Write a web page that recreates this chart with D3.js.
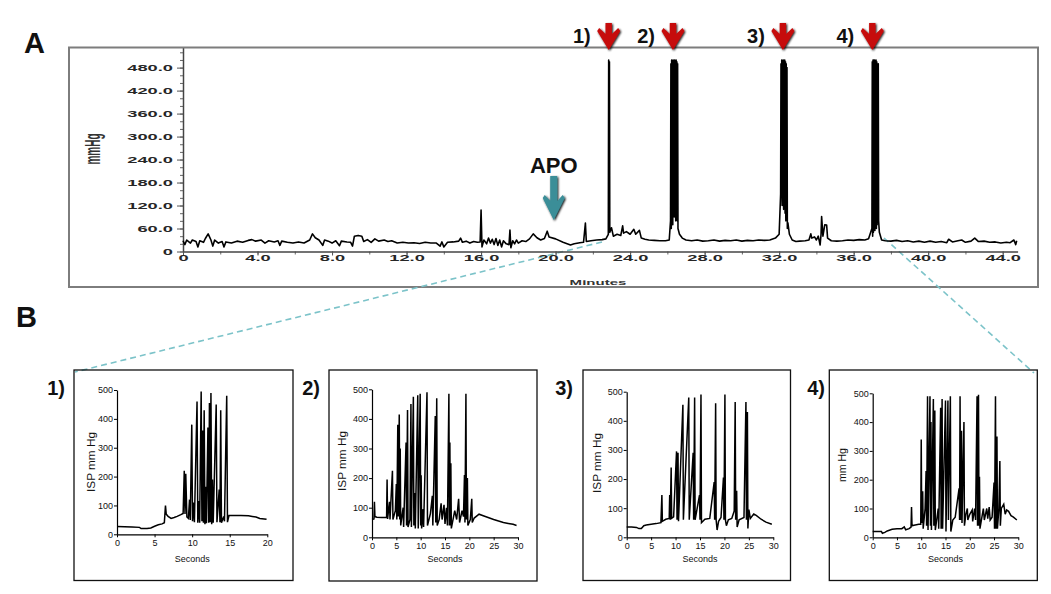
<!DOCTYPE html>
<html><head><meta charset="utf-8">
<script src="https://cdn.jsdelivr.net/npm/d3@7"></script>
<style>body{margin:0;background:#fff} svg{display:block}</style>
</head><body>
<svg id="c" width="1051" height="594"></svg>
<script>
// ---------------- DATA ----------------
const traceA = [[0,28],[0.1,18],[0.2,30],[0.4,22],[0.5,30],[0.7,26],[0.8,12],[0.9,28],[1.1,24],[1.2,34],[1.35,46],[1.5,30],[1.6,14],[1.7,30],[1.9,22],[2.1,26],[2.2,12],[2.3,25],[2.6,22],[2.9,27],[3.2,24],[3.5,29],[3.7,31],[3.9,27],[4.2,30],[4.4,22],[4.6,28],[4.9,25],[5.1,28],[5.2,16],[5.3,27],[5.6,24],[5.9,22],[6.2,25],[6.5,22],[6.8,30],[6.95,46],[7.1,36],[7.3,30],[7.5,16],[7.6,30],[7.8,27],[8.0,22],[8.2,28],[8.4,15],[8.5,27],[8.8,25],[9.0,24],[9.1,14],[9.2,40],[9.4,42],[9.6,40],[9.7,26],[9.9,31],[10.1,24],[10.3,33],[10.5,27],[10.8,30],[11.0,26],[11.2,28],[11.5,22],[11.8,24],[12.1,22],[12.4,23],[12.7,21],[13.0,24],[13.3,22],[13.6,22],[13.8,14],[13.9,25],[14.0,12],[14.2,24],[14.5,25],[14.8,27],[14.9,35],[15.0,24],[15.2,27],[15.4,22],[15.6,26],[15.8,24],[15.95,25],[16.0,108],[16.05,12],[16.15,30],[16.3,20],[16.4,35],[16.5,22],[16.6,32],[16.7,18],[16.8,34],[16.9,16],[17.0,30],[17.1,12],[17.2,28],[17.35,20],[17.5,18],[17.55,56],[17.6,10],[17.7,28],[17.8,20],[17.9,30],[18.0,22],[18.2,28],[18.4,26],[18.6,33],[18.8,46],[19.0,36],[19.2,30],[19.4,34],[19.55,53],[19.65,38],[20.0,33],[20.4,24],[20.8,17],[21.0,20],[21.3,23],[21.5,24],[21.6,74],[21.65,26],[21.9,28],[22.2,30],[22.5,31],[22.7,33],[22.83,45],[22.85,500],[22.87,60],[22.89,495],[22.91,50],[23.0,62],[23.1,40],[23.3,45],[23.5,42],[23.6,67],[23.65,48],[23.8,52],[24.0,45],[24.2,58],[24.3,45],[24.5,55],[24.6,35],[24.8,32],[25.0,30],[25.3,29],[25.6,28],[25.9,28],[26.1,30],[26.17,80],[26.19,490],[26.21,60],[26.23,500],[26.25,100],[26.27,495],[26.29,70],[26.31,500],[26.33,150],[26.35,495],[26.37,90],[26.39,500],[26.41,200],[26.43,495],[26.45,80],[26.47,500],[26.49,120],[26.51,495],[26.53,80],[26.55,490],[26.57,60],[26.65,45],[26.8,35],[27.0,30],[27.3,28],[27.6,30],[27.9,27],[28.2,28],[28.5,30],[28.8,27],[29.1,29],[29.4,28],[29.7,30],[30.0,27],[30.3,29],[30.6,28],[30.9,30],[31.2,29],[31.5,30],[31.8,35],[32.0,45],[32.08,150],[32.1,490],[32.12,160],[32.14,500],[32.16,120],[32.18,495],[32.2,140],[32.22,500],[32.24,110],[32.26,490],[32.28,130],[32.3,500],[32.32,100],[32.34,495],[32.36,80],[32.38,490],[32.4,90],[32.42,480],[32.44,60],[32.47,75],[32.55,45],[32.7,30],[32.9,26],[33.1,27],[33.4,28],[33.6,30],[33.7,46],[33.75,35],[33.9,38],[34.0,30],[34.1,40],[34.2,17],[34.25,45],[34.28,91],[34.35,40],[34.45,70],[34.55,69],[34.6,35],[34.8,28],[35.1,27],[35.4,28],[35.7,30],[36.0,29],[36.3,31],[36.6,30],[36.8,33],[36.98,60],[37.0,495],[37.02,40],[37.04,500],[37.06,50],[37.08,500],[37.1,60],[37.12,500],[37.14,55],[37.16,495],[37.18,70],[37.2,500],[37.22,60],[37.24,495],[37.26,70],[37.28,490],[37.3,80],[37.32,490],[37.34,80],[37.38,50],[37.5,30],[37.7,28],[38.0,27],[38.3,29],[38.6,26],[38.9,28],[39.2,25],[39.5,27],[39.8,24],[40.1,27],[40.4,24],[40.7,26],[41.0,23],[41.1,32],[41.3,25],[41.6,28],[41.8,30],[42.0,24],[42.3,27],[42.5,35],[42.7,26],[43.0,27],[43.3,24],[43.6,25],[43.9,22],[44.2,24],[44.4,23],[44.6,30],[44.7,18],[44.75,28]];
const yTicksA = [0,60,120,180,240,300,360,420,480];
const xTicksA = [0,4,8,12,16,20,24,28,32,36,40,44];
const arrowMinutes = [22.85, 26.3, 32.2, 37.0];
const arrowLabels = ["1)","2)","3)","4)"];
const apoMinute = 19.9;

const trace1 = [[0,27],[1,26],[2,25],[3,24],[3.2,20],[4,20],[4.5,22],[5,28],[5.5,33],[6,36],[6.3,40],[6.45,100],[6.55,70],[6.8,62],[7.2,55],[7.6,58],[8.0,62],[8.5,68],[8.8,72],[8.95,220],[9.05,70],[9.15,210],[9.3,60],[9.5,55],[9.65,120],[9.75,50],[9.95,380],[10.05,45],[10.15,110],[10.3,42],[10.65,460],[10.75,40],[10.9,115],[11.0,40],[11.2,495],[11.3,45],[11.4,360],[11.5,40],[11.6,430],[11.7,35],[11.8,165],[11.9,38],[12.1,370],[12.2,40],[12.3,455],[12.4,42],[12.5,490],[12.6,35],[12.7,190],[12.8,40],[13.2,450],[13.3,42],[13.6,155],[13.7,42],[13.8,430],[13.9,40],[14.2,62],[14.3,45],[14.6,480],[14.7,42],[14.9,65],[15.5,65],[16.5,65],[17.5,64],[18.0,62],[18.5,60],[19,55],[19.9,52]];
const trace2 = [[0,60],[0.4,62],[0.5,120],[0.6,70],[1,68],[2,67],[3,68],[3.1,195],[3.2,62],[3.6,120],[3.7,60],[4.2,225],[4.3,60],[4.8,90],[5.0,180],[5.1,60],[5.3,380],[5.4,70],[5.6,415],[5.7,60],[5.8,300],[5.9,40],[6.4,100],[6.5,35],[7.0,320],[7.1,40],[7.3,430],[7.4,35],[7.8,60],[8.0,450],[8.1,35],[8.5,475],[8.6,40],[8.8,150],[8.9,30],[9.4,480],[9.5,30],[9.9,485],[10.0,40],[10.1,210],[10.2,30],[10.5,95],[10.6,35],[11.3,490],[11.4,40],[12.0,80],[12.4,140],[12.5,40],[13.0,410],[13.1,50],[13.3,470],[13.4,40],[13.8,60],[14.2,115],[14.4,60],[14.8,110],[15.0,45],[15.3,100],[15.5,40],[15.8,485],[15.9,40],[16.0,320],[16.1,40],[16.2,250],[16.3,30],[17.0,90],[17.4,60],[17.8,130],[18.0,50],[18.5,90],[18.8,70],[19.0,210],[19.1,50],[19.3,485],[19.4,60],[19.6,200],[19.7,40],[20.2,60],[20.5,130],[20.6,50],[21.0,65],[22.0,78],[23,72],[24,66],[25,60],[26,55],[27,50],[28,47],[29,44],[29.7,40]];
const trace3 = [[0,35],[1,35],[2,34],[2.5,30],[3,30],[3.5,40],[4,42],[5,45],[6,47],[7,50],[7.2,145],[7.3,55],[8,62],[8.7,65],[8.8,145],[8.9,60],[9.1,240],[9.2,65],[9.6,70],[10.2,295],[10.3,60],[10.5,290],[10.6,55],[11.5,455],[11.6,60],[12.7,480],[12.8,60],[13.6,290],[13.7,60],[13.9,480],[14.0,60],[14.9,145],[15.0,60],[15.2,490],[15.3,50],[16,62],[17,65],[17.9,190],[18.0,60],[18.2,460],[18.3,60],[18.5,25],[18.8,55],[19.3,68],[19.8,205],[19.9,60],[20.1,490],[20.2,60],[20.4,40],[20.8,60],[21.5,65],[22.0,90],[22.2,465],[22.3,60],[22.5,160],[22.6,35],[23.0,60],[24.0,68],[24.4,465],[24.5,60],[24.7,430],[24.8,30],[25.0,95],[25.3,65],[26.0,80],[26.5,75],[27.5,62],[28.5,52],[29.7,45]];
const trace4 = [[0,20],[1,20],[1.8,20],[2,14],[2.5,17],[3,22],[4,28],[5,30],[6,30],[6.5,36],[6.8,26],[7.5,30],[7.9,35],[8.0,105],[8.1,40],[8.5,42],[9.5,45],[9.9,45],[10.0,340],[10.1,50],[10.3,160],[10.4,30],[10.8,100],[11.0,230],[11.1,40],[11.3,490],[11.4,25],[11.8,490],[11.9,40],[12.0,400],[12.1,25],[12.5,480],[12.6,40],[12.8,440],[12.9,25],[13.5,100],[13.6,30],[14.0,450],[14.1,30],[14.3,480],[14.4,30],[15.0,475],[15.1,20],[15.5,475],[15.6,60],[16.0,490],[16.1,20],[16.5,60],[17.0,70],[17.8,170],[17.9,60],[18.0,490],[18.1,60],[18.3,370],[18.4,50],[18.8,400],[18.9,40],[19.2,80],[19.5,100],[19.6,60],[20.0,80],[20.5,95],[20.6,55],[21.0,100],[21.2,60],[21.5,490],[21.6,40],[21.8,495],[21.9,40],[22.0,210],[22.1,30],[22.5,70],[22.8,100],[23.0,60],[23.5,100],[23.7,65],[24.0,105],[24.2,60],[24.6,70],[25.0,190],[25.1,30],[25.3,490],[25.4,30],[25.6,350],[25.7,30],[26.0,100],[26.2,265],[26.3,40],[26.5,100],[27.0,115],[27.3,80],[27.6,95],[28.0,90],[28.5,75],[29,70],[29.7,60]];
const yTicksB = [0,100,200,300,400,500];
const xTicksB20 = [0,5,10,15,20];
const xTicksB30 = [0,5,10,15,20,25,30];
const subLabels = ["1)","2)","3)","4)"];
const subYTitles = ["ISP mm Hg","ISP mm Hg","ISP mm Hg","mm Hg"];

// ---------------- DRAW ----------------
const svg = d3.select("#c");
const FONT = "'Liberation Sans', Arial, sans-serif";
const SX = 2.15; // horizontal stretch of the embedded panel-A screenshot text

svg.append("rect").attr("x",69).attr("y",47.5).attr("width",969).attr("height",239.5)
  .attr("fill","none").attr("stroke","#7d7d7d").attr("stroke-width",2);

const xA = d3.scaleLinear().domain([0,44.8]).range([183,1017.6]);
const yA = d3.scaleLinear().domain([0,532]).range([251.5,47.7]);

const dash = svg.append("g").attr("stroke","#7cc3c9").attr("stroke-width",1.6)
  .attr("stroke-dasharray","6,4").attr("fill","none");
dash.append("line").attr("x1",602).attr("y1",242).attr("x2",75).attr("y2",372);
dash.append("line").attr("x1",884).attr("y1",238).attr("x2",1034).attr("y2",373);

svg.append("g").attr("transform","translate(183,0)")
  .call(d3.axisLeft(yA).tickValues(d3.range(0,521,20)).tickSize(3).tickFormat(""))
  .call(g=>g.select(".domain").remove())
  .selectAll("line").attr("stroke","#666");
svg.append("g").attr("transform","translate(0,251.5)")
  .call(d3.axisBottom(xA).tickValues(d3.range(0,44.8,2)).tickSize(3).tickFormat(""))
  .call(g=>g.select(".domain").remove())
  .selectAll("line").attr("stroke","#666");

const gy = svg.append("g").attr("transform","translate(183,0)")
  .call(d3.axisLeft(yA).tickValues(yTicksA).tickSize(6).tickSizeOuter(0)
    .tickFormat(d=> d===0 ? "0" : d.toFixed(1)));
gy.select(".domain").attr("stroke","#444").attr("stroke-width",1.5);
gy.selectAll(".tick line").attr("stroke","#555");
gy.selectAll("text").attr("font-family",FONT).attr("font-weight","bold").attr("font-size",8.5)
  .attr("fill","#262626").attr("x",-10/SX).attr("transform",`scale(${SX},1)`);

const gx = svg.append("g").attr("transform","translate(0,251.5)")
  .call(d3.axisBottom(xA).tickValues(xTicksA).tickSize(4).tickSizeOuter(0)
    .tickFormat(d=> d===0 ? "0" : d.toFixed(1)));
gx.select(".domain").attr("stroke","#444").attr("stroke-width",1.5);
gx.selectAll(".tick line").attr("stroke","#555");
gx.selectAll("text").attr("font-family",FONT).attr("font-weight","bold").attr("font-size",8.5)
  .attr("fill","#262626").attr("y",3).attr("transform",`scale(${SX},1)`);

svg.append("text").attr("transform",`translate(100,149) scale(${SX},1) rotate(-90)`)
  .attr("text-anchor","middle").attr("font-family",FONT).attr("font-weight","bold")
  .attr("font-size",10).attr("fill","#333").text("mmHg");
svg.append("text").attr("transform",`translate(598,285) scale(${SX},1)`)
  .attr("text-anchor","middle").attr("font-family",FONT).attr("font-weight","bold")
  .attr("font-size",7).attr("fill","#333").text("Minutes");

svg.append("path").datum(traceA)
  .attr("d", d3.line().x(d=>xA(d[0])).y(d=>yA(d[1])))
  .attr("fill","none").attr("stroke","#000").attr("stroke-width",1.6).attr("stroke-linejoin","round");

const defs = svg.append("defs");
const f = defs.append("filter").attr("id","sh").attr("x","-50%").attr("y","-50%").attr("width","200%").attr("height","200%");
f.append("feGaussianBlur").attr("in","SourceAlpha").attr("stdDeviation",1.2);
f.append("feOffset").attr("dx",0.5).attr("dy",1.2).attr("result","b");
const fm = f.append("feMerge"); fm.append("feMergeNode").attr("in","b"); fm.append("feMergeNode").attr("in","SourceGraphic");

function downArrow(cx, top, tip, half, stem, wingY){
  return `M${cx-stem},${top} L${cx+stem},${top} L${cx+stem},${wingY+6} L${cx+half-2},${wingY} L${cx+half},${wingY+3} L${cx},${tip} L${cx-half},${wingY+3} L${cx-half+2},${wingY} L${cx-stem},${wingY+6} Z`;
}
arrowMinutes.forEach((m,i)=>{
  const cx = xA(m);
  svg.append("path").attr("d",downArrow(cx,23,50,11.5,3.2,28))
    .attr("fill","#c40000").attr("filter","url(#sh)").attr("opacity",0.95);
  svg.append("text").attr("x",cx-18).attr("y",43).attr("text-anchor","end")
    .attr("font-family",FONT).attr("font-weight","bold").attr("font-size",20)
    .attr("fill","#111").text(arrowLabels[i]);
});

const ax = xA(apoMinute);
svg.append("path").attr("d",downArrow(ax,176,220,11,3.5,195))
  .attr("fill","#3a8e98").attr("filter","url(#sh)");
svg.append("text").attr("x",ax).attr("y",173).attr("text-anchor","middle")
  .attr("font-family",FONT).attr("font-weight","bold").attr("font-size",22)
  .attr("fill","#111").text("APO");

svg.append("text").attr("x",24).attr("y",53).attr("font-family",FONT).attr("font-weight","bold")
  .attr("font-size",29).attr("fill","#111").text("A");
svg.append("text").attr("x",16).attr("y",327).attr("font-family",FONT).attr("font-weight","bold")
  .attr("font-size",29).attr("fill","#111").text("B");

// ---------------- Panel B ----------------
const subs = [
  {data:trace1, xmax:20, xt:xTicksB20, box:[74,370,293,580.5], ax:117, y0:534.3, y500:390, x1:267.3, lab:[65,395], yt:[92,462], tl:60},
  {data:trace2, xmax:30, xt:xTicksB30, box:[329,370,537,581], ax:372, y0:537.3, y500:389.3, x1:518, lab:[320,395], yt:[343,461], tl:60},
  {data:trace3, xmax:30, xt:xTicksB30, box:[583,370,790.5,580.5], ax:626.7, y0:537.3, y500:391.7, x1:773.3, lab:[573,395], yt:[598,463], tl:60},
  {data:trace4, xmax:30, xt:xTicksB30, box:[829.3,370,1037.3,580.5], ax:872.7, y0:537.3, y500:393.3, x1:1018.3, lab:[825,395], yt:[843,465], tl:34}
];
subs.forEach((s,i)=>{
  svg.append("rect").attr("x",s.box[0]).attr("y",s.box[1]).attr("width",s.box[2]-s.box[0])
    .attr("height",s.box[3]-s.box[1]).attr("fill","none").attr("stroke","#111").attr("stroke-width",1.3);
  svg.append("text").attr("x",s.lab[0]).attr("y",s.lab[1]).attr("text-anchor","end")
    .attr("font-family",FONT).attr("font-weight","bold").attr("font-size",20).attr("fill","#111").text(subLabels[i]);
  const x = d3.scaleLinear().domain([0,s.xmax]).range([s.ax,s.x1]);
  const y = d3.scaleLinear().domain([0,500]).range([s.y0,s.y500]);
  const g = svg.append("g");
  const gyb = g.append("g").attr("transform",`translate(${s.ax},0)`)
    .call(d3.axisLeft(y).tickValues(yTicksB).tickSize(3).tickPadding(1).tickSizeOuter(0));
  const gxb = g.append("g").attr("transform",`translate(0,${s.y0})`)
    .call(d3.axisBottom(x).tickValues(s.xt).tickSize(3).tickPadding(2).tickSizeOuter(0));
  [gyb,gxb].forEach(a=>{
    a.select(".domain").attr("stroke","#000").attr("stroke-width",1.2);
    a.selectAll(".tick line").attr("stroke","#000");
    a.selectAll("text").attr("font-family",FONT).attr("font-size",9).attr("fill","#111");
  });
  g.append("text").attr("x",(s.ax+s.x1)/2).attr("y",562).attr("text-anchor","middle")
    .attr("font-family",FONT).attr("font-size",9).attr("fill","#111").text("Seconds");
  g.append("text").attr("transform",`translate(${s.yt[0]+3},${s.yt[1]}) rotate(-90)`)
    .attr("text-anchor","middle").attr("font-family",FONT).attr("font-size",10).attr("fill","#111")
    .attr("textLength",s.tl).attr("lengthAdjust","spacingAndGlyphs")
    .text(subYTitles[i]);
  g.append("path").datum(s.data)
    .attr("d", d3.line().x(d=>x(d[0])).y(d=>y(d[1])))
    .attr("fill","none").attr("stroke","#000").attr("stroke-width",1.5);
});
</script>
</body></html>
